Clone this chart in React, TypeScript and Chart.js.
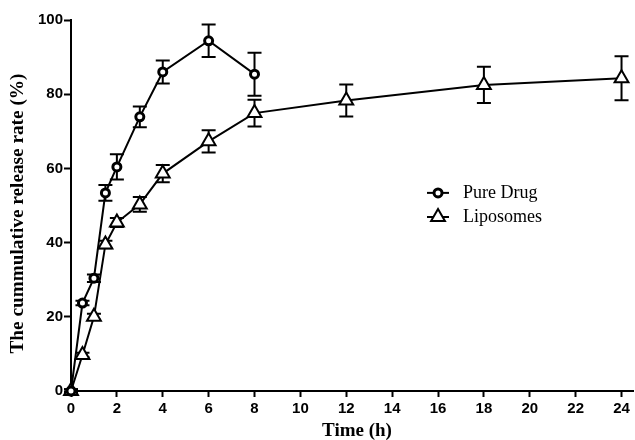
import React, { useEffect, useRef } from 'react';
import { Chart, registerables } from 'chart.js';

Chart.register(...registerables);

const xTickValues = [0, 2, 4, 6, 8, 10, 12, 14, 16, 18, 20, 22, 24];
const yTickValues = [0, 20, 40, 60, 80, 100];

const xTitle = 'Time (h)';
const yTitle = 'The cummulative release rate (%)';

const pureLabel = 'Pure Drug';
const pureTimes = [0, 0.5, 1, 1.5, 2, 3, 4, 6, 8];
const pureValues = [0, 23.7, 30.4, 53.4, 60.4, 73.9, 86.0, 94.4, 85.4];
const pureErrors = [0.5, 0.6, 1.0, 2.1, 3.4, 2.8, 3.1, 4.4, 5.8];

const lipoLabel = 'Liposomes';
const lipoTimes = [0, 0.5, 1, 1.5, 2, 3, 4, 6, 8, 12, 18, 24];
const lipoValues = [0, 9.7, 20.0, 39.5, 45.4, 50.3, 58.6, 67.3, 74.9, 78.3, 82.5, 84.3];
const lipoErrors = [0.5, 0.6, 0.8, 1.0, 1.2, 2.0, 2.3, 3.0, 3.6, 4.3, 4.9, 5.9];

const errorLists = [pureErrors, lipoErrors];

const errorBarPlugin = {
  id: 'errorBars',
  beforeDatasetsDraw(chart: any) {
    const ctx = chart.ctx;
    const yScale = chart.scales.y;
    ctx.save();
    ctx.strokeStyle = '#000';
    ctx.lineWidth = 2;
    chart.data.datasets.forEach((ds: any, di: number) => {
      const meta = chart.getDatasetMeta(di);
      const errs = errorLists[di];
      meta.data.forEach((pt: any, i: number) => {
        const v = ds.data[i].y;
        const e = errs[i];
        const top = yScale.getPixelForValue(v + e);
        const bot = yScale.getPixelForValue(v - e);
        const x = pt.x;
        const cap = 7;
        ctx.beginPath();
        ctx.moveTo(x, top);
        ctx.lineTo(x, bot);
        ctx.moveTo(x - cap, top);
        ctx.lineTo(x + cap, top);
        ctx.moveTo(x - cap, bot);
        ctx.lineTo(x + cap, bot);
        ctx.stroke();
      });
    });
    ctx.restore();
  },
};

const titlesPlugin = {
  id: 'axisTitles',
  afterDraw(chart: any) {
    const ctx = chart.ctx;
    const area = chart.chartArea;
    ctx.save();
    ctx.fillStyle = '#000';
    ctx.textAlign = 'center';
    ctx.textBaseline = 'middle';
    ctx.font = 'bold 19px "Liberation Serif", serif';
    ctx.fillText(xTitle, (area.left + area.right) / 2 + 5, 431);
    ctx.translate(18, (area.top + area.bottom) / 2 + 8);
    ctx.rotate(-Math.PI / 2);
    ctx.font = 'bold 19.5px "Liberation Serif", serif';
    ctx.fillText(yTitle, 0, 0, 280);
    ctx.restore();
  },
};

const legendPlugin = {
  id: 'customLegend',
  afterDraw(chart: any) {
    const ctx = chart.ctx;
    const xs = chart.scales.x;
    const ys = chart.scales.y;
    const mx = xs.getPixelForValue(16.0);
    const items = [
      { label: pureLabel, y: ys.getPixelForValue(53.4), style: 'circle' },
      { label: lipoLabel, y: ys.getPixelForValue(46.9), style: 'triangle' },
    ];
    ctx.save();
    ctx.strokeStyle = '#000';
    ctx.fillStyle = '#000';
    items.forEach((it) => {
      ctx.lineWidth = 2;
      ctx.beginPath();
      ctx.moveTo(mx - 11, it.y);
      ctx.lineTo(mx + 11, it.y);
      ctx.stroke();
      ctx.fillStyle = '#fff';
      ctx.beginPath();
      if (it.style === 'circle') {
        ctx.lineWidth = 3;
        ctx.arc(mx, it.y, 4, 0, Math.PI * 2);
      } else {
        ctx.lineWidth = 2;
        const r = 8;
        let rad = 0;
        ctx.moveTo(mx + Math.sin(rad) * r, it.y - Math.cos(rad) * r);
        rad += (2 * Math.PI) / 3;
        ctx.lineTo(mx + Math.sin(rad) * r, it.y - Math.cos(rad) * r);
        rad += (2 * Math.PI) / 3;
        ctx.lineTo(mx + Math.sin(rad) * r, it.y - Math.cos(rad) * r);
        ctx.closePath();
      }
      ctx.fill();
      ctx.stroke();
      ctx.fillStyle = '#000';
      ctx.font = '18px "Liberation Serif", serif';
      ctx.textBaseline = 'middle';
      ctx.textAlign = 'left';
      ctx.fillText(it.label, mx + 25, it.y);
    });
    ctx.restore();
  },
};

export default function App() {
  const ref = useRef<HTMLCanvasElement | null>(null);

  useEffect(() => {
    document.body.style.margin = '0';
    const canvas = ref.current;
    if (!canvas) return;
    const tickFont = { family: '"Liberation Sans", Arial', size: 15, weight: 'bold' as const };
    const chart = new Chart(canvas, {
      type: 'scatter',
      data: {
        datasets: [
          {
            label: pureLabel,
            data: pureTimes.map((t, i) => ({ x: t, y: pureValues[i] })),
            showLine: true,
            borderColor: '#000',
            borderWidth: 2,
            backgroundColor: '#fff',
            pointStyle: 'circle',
            pointRadius: 4,
            pointBorderWidth: 3,
            pointBorderColor: '#000',
            pointBackgroundColor: '#fff',
            clip: false,
          },
          {
            label: lipoLabel,
            data: lipoTimes.map((t, i) => ({ x: t, y: lipoValues[i] })),
            showLine: true,
            borderColor: '#000',
            borderWidth: 2,
            backgroundColor: '#fff',
            pointStyle: 'triangle',
            pointRadius: 8,
            pointBorderWidth: 2,
            pointBorderColor: '#000',
            pointBackgroundColor: '#fff',
            clip: false,
          },
        ],
      },
      options: {
        responsive: false,
        animation: false,
        layout: { autoPadding: false, padding: { top: 20, right: 2, left: 0, bottom: 0 } },
        plugins: {
          legend: { display: false },
          tooltip: { enabled: false },
        },
        scales: {
          x: {
            type: 'linear',
            min: 0,
            max: 24.5,
            afterBuildTicks: (s: any) => {
              s.ticks = xTickValues.map((v) => ({ value: v }));
            },
            afterFit: (s: any) => {
              s.height = 49;
              s.paddingLeft = 0;
              s.paddingRight = 0;
            },
            ticks: {
              font: tickFont,
              color: '#000',
              padding: 3,
              autoSkip: false,
              maxRotation: 0,
            },
            grid: {
              drawOnChartArea: false,
              drawTicks: true,
              tickLength: 6,
              tickWidth: 2,
              tickColor: '#000',
            },
            border: { color: '#000', width: 2 },
          },
          y: {
            type: 'linear',
            min: 0,
            max: 100,
            afterBuildTicks: (s: any) => {
              s.ticks = yTickValues.map((v) => ({ value: v }));
            },
            afterFit: (s: any) => {
              s.width = 71;
              s.paddingTop = 0;
              s.paddingBottom = 0;
            },
            ticks: {
              font: tickFont,
              color: '#000',
              padding: 1,
            },
            grid: {
              drawOnChartArea: false,
              drawTicks: true,
              tickLength: 7,
              tickWidth: 2,
              tickColor: '#000',
            },
            border: { color: '#000', width: 2 },
          },
        },
      },
      plugins: [errorBarPlugin, legendPlugin, titlesPlugin],
    });
    return () => chart.destroy();
  }, []);

  return (
    <div style={{ width: 635, height: 440, background: '#fff' }}>
      <canvas ref={ref} width={635} height={440} />
    </div>
  );
}
